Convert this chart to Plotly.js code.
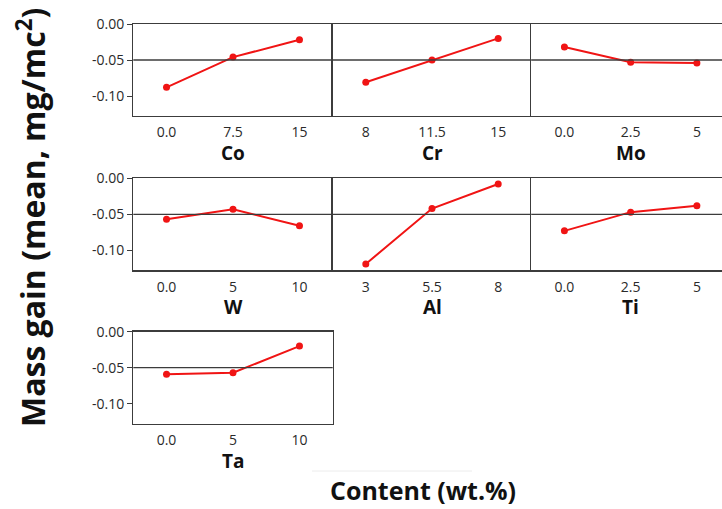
<!DOCTYPE html>
<html>
<head>
<meta charset="utf-8">
<script src="https://cdn.plot.ly/plotly-3.0.1.min.js"></script>
<style>
  html, body { margin: 0; padding: 0; background: #fff; overflow: hidden; }
  #chart { width: 740px; height: 509px; }
</style>
</head>
<body>
<div id="chart"></div>
<script>
// Main effects of alloying elements on mass gain
const factors = ['Co', 'Cr', 'Mo', 'W', 'Al', 'Ti', 'Ta'];

const levelsCo = ['0.0', '7.5', '15'];
const meansCo  = [-0.088, -0.046, -0.022];

const levelsCr = ['8', '11.5', '15'];
const meansCr  = [-0.081, -0.050, -0.020];

const levelsMo = ['0.0', '2.5', '5'];
const meansMo  = [-0.032, -0.053, -0.054];

const levelsW  = ['0.0', '5', '10'];
const meansW   = [-0.057, -0.043, -0.066];

const levelsAl = ['3', '5.5', '8'];
const meansAl  = [-0.119, -0.042, -0.008];

const levelsTi = ['0.0', '2.5', '5'];
const meansTi  = [-0.073, -0.047, -0.038];

const levelsTa = ['0.0', '5', '10'];
const meansTa  = [-0.059, -0.057, -0.020];

const yTickVals = [0, -0.05, -0.10];
const yTickText = ['0.00', '-0.05', '-0.10'];
const meanLine = -0.05;

const yTitle = 'Mass gain (mean, mg/mc<sup>2</sup>)';
const xTitle = 'Content (wt.%)';

const levels = [levelsCo, levelsCr, levelsMo, levelsW, levelsAl, levelsTi, levelsTa];
const means  = [meansCo, meansCr, meansMo, meansW, meansAl, meansTi, meansTa];

// page geometry (px)
const W = 740, H = 509;
const colEdges = [133.3, 332.7, 531.3, 730];
const rowTops = [24, 178.3, 331.7];
const yRange = [-0.128, 0];
const panelH = (yRange[1] - yRange[0]) / 0.05 * 36;

const frameColor = '#3c3c3c';
const red = '#f01414';
const tickFont = { family: 'Open Sans, Noto Sans, sans-serif', size: 14, color: '#2a2a2a' };
const boldFont = { family: 'Open Sans, Noto Sans, sans-serif', color: '#111', weight: 700 };

const data = [];
const layout = {
  width: W, height: H,
  margin: { l: 0, r: 0, t: 0, b: 0 },
  paper_bgcolor: '#fff', plot_bgcolor: '#fff',
  showlegend: false,
  shapes: [], annotations: []
};

factors.forEach((name, i) => {
  const row = Math.floor(i / 3), col = i % 3;
  const sfx = i === 0 ? '' : String(i + 1);
  const x0 = colEdges[col], x1 = colEdges[col + 1];
  const top = rowTops[row], bottom = top + panelH;
  // a panel's right edge is drawn by its right-hand neighbour's left axis line
  const lastInRow = col === 2 || i === factors.length - 1;

  data.push({
    type: 'scatter', mode: 'lines+markers',
    x: levels[i], y: means[i],
    xaxis: 'x' + sfx, yaxis: 'y' + sfx,
    line: { color: red, width: 2 },
    marker: { color: red, size: 7 },
    hoverinfo: 'x+y'
  });

  layout['xaxis' + sfx] = {
    domain: [x0 / W, x1 / W], anchor: 'y' + sfx,
    type: 'category', range: [-0.5, 2.5],
    showgrid: false, zeroline: false,
    showline: true, mirror: true, linecolor: frameColor, linewidth: 1.3,
    ticks: '', tickfont: tickFont, ticklabelstandoff: 3,
    fixedrange: true
  };
  layout['yaxis' + sfx] = {
    domain: [1 - bottom / H, 1 - top / H], anchor: 'x' + sfx,
    range: yRange,
    tickvals: yTickVals, ticktext: yTickText,
    showticklabels: col === 0,
    ticks: col === 0 ? 'outside' : '', ticklen: 5, tickcolor: frameColor,
    tickfont: tickFont,
    showgrid: false, zeroline: false,
    showline: true, mirror: lastInRow, linecolor: frameColor, linewidth: 1.3,
    fixedrange: true
  };

  // overall mean reference line
  layout.shapes.push({
    type: 'line', xref: 'x' + sfx + ' domain', yref: 'y' + sfx,
    x0: 0, x1: 1, y0: meanLine, y1: meanLine,
    line: { color: frameColor, width: 1.3 }
  });

  // factor name under each panel
  layout.annotations.push({
    text: name, showarrow: false,
    xref: 'paper', yref: 'paper',
    x: (x0 + x1) / 2 / W, y: 1 - (bottom + 37) / H,
    xanchor: 'center', yanchor: 'middle',
    font: Object.assign({ size: 19 }, boldFont)
  });
});

layout.annotations.push({
  text: yTitle, showarrow: false, textangle: -90,
  xref: 'paper', yref: 'paper',
  x: 31 / W, y: 1 - 218 / H, xanchor: 'center', yanchor: 'middle',
  font: Object.assign({ size: 32 }, boldFont)
});
layout.annotations.push({
  text: xTitle, showarrow: false,
  xref: 'paper', yref: 'paper',
  x: 423 / W, y: 1 - 490 / H, xanchor: 'center', yanchor: 'middle',
  font: Object.assign({ size: 25 }, boldFont)
});
layout.shapes.push({
  type: 'line', xref: 'paper', yref: 'paper',
  x0: 312 / W, x1: 472 / W, y0: 1 - 471 / H, y1: 1 - 471 / H,
  line: { color: '#ececec', width: 1 }
});

Plotly.newPlot('chart', data, layout, { displayModeBar: false, staticPlot: true });
</script>
</body>
</html>
